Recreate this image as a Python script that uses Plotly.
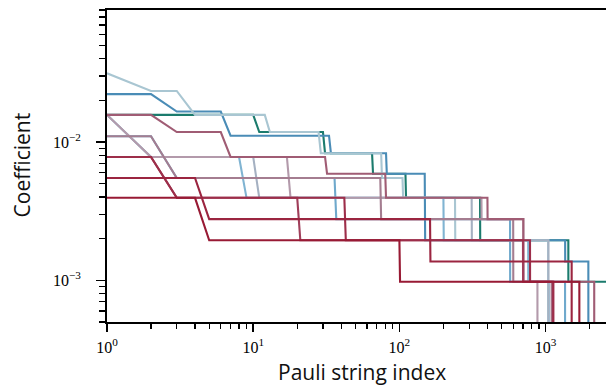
import plotly.graph_objects as go

# Each series: coefficient value of each plateau and the last Pauli-string index on it
teal_vals = [0.0157, 0.0118, 0.0083, 0.0059, 0.00395, 0.00195, 0.000977]
teal_ends = [10, 30, 65, 110, 356, 1430, 3000]

blue_vals = [0.0222, 0.0166, 0.0111, 0.0083, 0.0059, 0.00195, 0.00137, 0.0002]
blue_ends = [2, 6, 33, 81, 149, 1360, 1960, 1961]

lblue2_vals = [0.0110, 0.0055, 0.00277, 0.000977, 0.0002]
lblue2_ends = [2, 36, 571, 1358, 1359]

lblue_vals = [0.0157, 0.0078, 0.00395, 0.00195, 0.000977, 0.0002]
lblue_ends = [1, 8, 200, 760, 1050, 1051]

pale_vals = [0.0314, 0.0234, 0.0157, 0.0118, 0.0083, 0.0055, 0.00395, 0.00195, 0.0002]
pale_ends = [1, 3, 12, 28, 75, 105, 240, 1040, 1041]

grayblue_vals = [0.0157, 0.0078, 0.00395, 0.00195, 0.0002]
grayblue_ends = [1, 10, 312, 1045, 1046]

palemauve_vals = [0.0157, 0.0078, 0.00395, 0.00277, 0.000977, 0.0002]
palemauve_ends = [1, 17, 364, 704, 879, 880]

mauve_vals = [0.0110, 0.0055, 0.00277, 0.000977, 0.0002]
mauve_ends = [2, 74, 600, 1099, 1100]

rose_vals = [0.0157, 0.0118, 0.0078, 0.0059, 0.00395, 0.00277, 0.000977, 0.0002]
rose_ends = [2, 6, 31, 80, 400, 704, 2150, 2151]

redrose_vals = [0.0078, 0.00395, 0.00195, 0.000977, 0.0002]
redrose_ends = [2, 20, 700, 1120, 1121]

red_vals = [0.0078, 0.00395, 0.00195, 0.000977, 0.0002]
red_ends = [2, 42, 782, 1130, 1131]

red2_vals = [0.0055, 0.00277, 0.00137, 0.0002]
red2_ends = [4, 162, 1507, 1508]

darkred_vals = [0.00395, 0.00195, 0.000977, 0.0002]
darkred_ends = [4, 100, 1701, 1702]

series = [
    (teal_vals, teal_ends, "#1b7b6d"),
    (blue_vals, blue_ends, "#4a8cb6"),
    (lblue2_vals, lblue2_ends, "#6fa9cc"),
    (lblue_vals, lblue_ends, "#80b4d2"),
    (pale_vals, pale_ends, "#a9c6d2"),
    (grayblue_vals, grayblue_ends, "#a5b1c2"),
    (palemauve_vals, palemauve_ends, "#b39aab"),
    (mauve_vals, mauve_ends, "#a47d90"),
    (rose_vals, rose_ends, "#a05c74"),
    (redrose_vals, redrose_ends, "#a03e5a"),
    (red_vals, red_ends, "#9d2e4a"),
    (red2_vals, red2_ends, "#9b2540"),
    (darkred_vals, darkred_ends, "#981a34"),
]

fig = go.Figure()
for vals, ends, color in series:
    xs, ys = [], []
    start = 1
    for v, e in zip(vals, ends):
        xs += [start, e]
        ys += [v, v]
        start = e + 1
    fig.add_trace(go.Scatter(x=xs, y=ys, mode="lines",
                             line=dict(color=color, width=2.1),
                             showlegend=False, hoverinfo="skip"))

x_major = [1, 10, 100, 1000]
x_labels = ["10<sup>0</sup>", "10<sup>1</sup>", "10<sup>2</sup>", "10<sup>3</sup>"]
x_minor = [m * d for d in (1, 10, 100, 1000) for m in range(2, 10)]
y_major = [0.01, 0.001]
y_labels = ["10<sup>−2</sup>", "10<sup>−3</sup>"]
y_minor = [m * d for d in (0.0001, 0.001, 0.01) for m in range(2, 10)]

tickfont = dict(family="Liberation Serif, DejaVu Serif, serif", size=16, color="black")
titlefont = dict(family="Open Sans, Noto Sans, sans-serif", size=21, color="#111111")

W, H = 606, 387
L, T, B = 107, 9.5, 65.3
PH = H - T - B
PW = W - L

fig.update_layout(
    width=W, height=H,
    margin=dict(l=L, r=0, t=T, b=B, pad=0, autoexpand=False),
    plot_bgcolor="white", paper_bgcolor="white",
    xaxis=dict(type="log", range=[0, 3.413], showgrid=False, zeroline=False,
               automargin=False,
               showline=True, linecolor="black", linewidth=2, mirror=True,
               ticks="outside", ticklen=8, tickwidth=1.5, tickcolor="black",
               tickvals=x_major, ticktext=x_labels, tickfont=tickfont,
               ticklabelstandoff=2,
               minor=dict(tickvals=x_minor, ticks="outside", ticklen=4.5,
                          tickwidth=1.2, tickcolor="black", showgrid=False)),
    yaxis=dict(type="log", range=[-3.301, -1.0458], showgrid=False, zeroline=False,
               automargin=False,
               showline=True, linecolor="black", linewidth=2,
               ticks="outside", ticklen=9, tickwidth=1.5, tickcolor="black",
               tickvals=y_major, ticktext=y_labels, tickfont=tickfont,
               ticklabelstandoff=12,
               minor=dict(tickvals=y_minor, ticks="outside", ticklen=6,
                          tickwidth=1.2, tickcolor="black", showgrid=False)),
    annotations=[
        dict(text="Pauli string index", xref="paper", yref="paper",
             x=(361.5 - L) / PW, y=-(372 - (H - B)) / PH, xanchor="center",
             yanchor="middle", showarrow=False, font=titlefont),
        dict(text="Coefficient", xref="paper", yref="paper",
             x=-(L - 22) / PW, y=((H - B) - 165) / PH, xanchor="center",
             yanchor="middle", textangle=-90, showarrow=False, font=titlefont),
    ],
)

fig.write_html("out.html",
               config={"displayModeBar": False, "staticPlot": True},
               post_script="document.body.style.margin='0';document.body.style.overflow='hidden';")
